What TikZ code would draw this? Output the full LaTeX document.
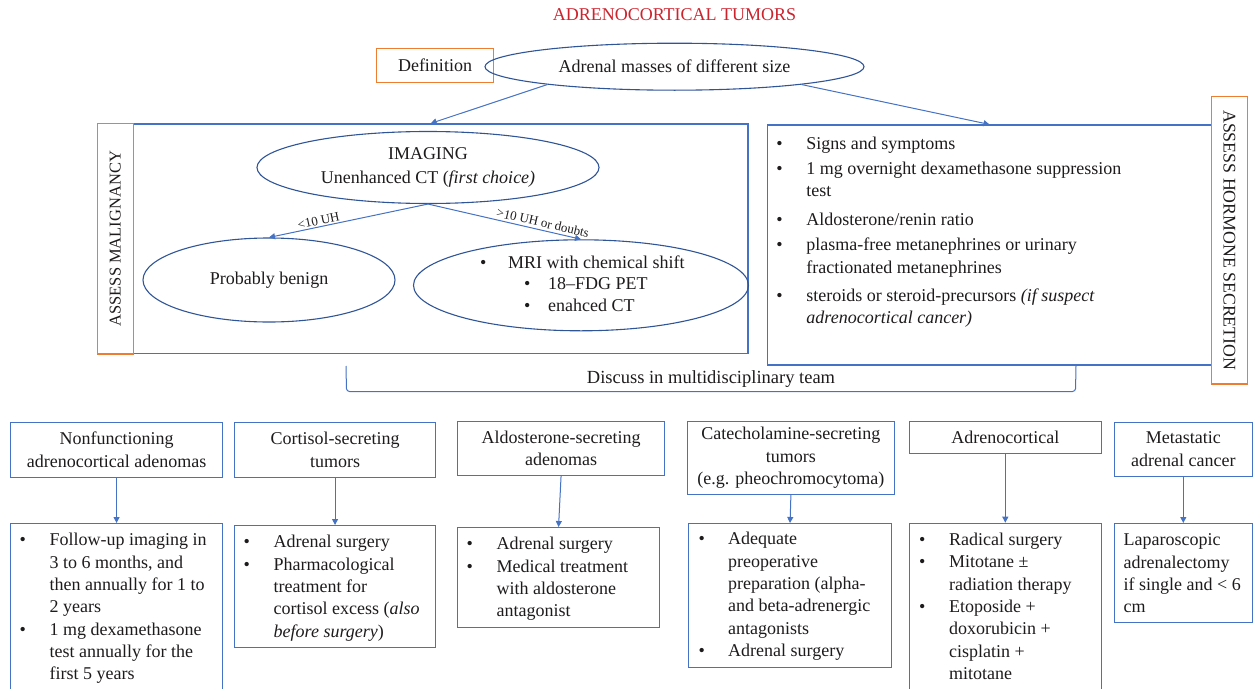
\documentclass[tikz,border=0pt]{standalone}
\usepackage{fontspec}
\setmainfont{Liberation Serif}
\usetikzlibrary{shapes.geometric,arrows.meta,calc}
\definecolor{boxblue}{RGB}{68,114,196}
\definecolor{elblue}{RGB}{47,85,151}
\definecolor{orng}{RGB}{237,125,49}
\definecolor{ttl}{RGB}{204,35,45}
\definecolor{ink}{RGB}{30,27,28}
\newcommand{\bodyfont}{\fontsize{18}{22.3}\selectfont}
\begin{document}
\begin{tikzpicture}[x=1pt,y=-1pt,
  every node/.style={text=ink},
  bx/.style={draw=boxblue, line width=1.1pt, rectangle, inner sep=0pt},
  obx/.style={draw=orng, line width=1.3pt, rectangle, inner sep=0pt},
  el/.style={draw=elblue, line width=1.1pt, ellipse, inner sep=0pt},
  txt/.style={inner sep=0pt, font=\bodyfont, align=left},
  hd/.style={bx, anchor=north west, font=\bodyfont, align=center},
  arr/.style={draw=boxblue, line width=1pt, -{Triangle[width=6pt,length=6pt]}},
  lbl/.style={font=\fontsize{13}{15}\selectfont, inner sep=1.5pt},
]
\useasboundingbox (0,0) rectangle (1258,688);

% title and definition
\node[font=\fontsize{18}{20}\selectfont, text=ttl, inner sep=0pt] (title) at (674.5,15) {ADRENOCORTICAL TUMORS};
\node[obx, minimum width=116.6, minimum height=34.4, font=\bodyfont] (def) at (435,65.5) {Definition};
\node[el, minimum width=379, minimum height=47, font=\bodyfont] (adm) at (674.5,66.7) {Adrenal masses of different size};

% assess malignancy
\node[bx, minimum width=614.7, minimum height=229.5] (mal) at (440.65,238.7) {};
\node[obx, rotate=90, minimum width=230.7, minimum height=36, font=\fontsize{16.5}{18}\selectfont] (malL) at (115.3,238.7) {ASSESS MALIGNANCY};
\node[el, minimum width=342, minimum height=72, font=\bodyfont, align=center] (img) at (428,167.5) {IMAGING\\[2pt]Unenhanced CT (\textit{first choice)}};
\node[el, minimum width=252, minimum height=84, font=\bodyfont] (ben) at (269,280) {Probably benign};
\node[el, minimum width=335, minimum height=91] (mri) at (581,285.3) {};
\node[txt, anchor=west] (mrit) at (480,285.5) {\fontsize{18}{21.5}\selectfont\begin{tabular}{@{}l@{}}
\makebox[28pt][l]{\textbullet}MRI with chemical shift\\
\hspace{44pt}\makebox[24pt][l]{\textbullet}18–FDG PET\\
\hspace{44pt}\makebox[24pt][l]{\textbullet}enahced CT
\end{tabular}};

% assess hormone secretion
\node[bx, minimum width=444.4, minimum height=240] (horm) at (989.5,245) {};
\node[obx, rotate=-90, minimum width=287.3, minimum height=35.6, font=\fontsize{17.8}{20}\selectfont] (hormL) at (1229.5,240.3) {ASSESS HORMONE SECRETION};
\node[txt, anchor=north west] (hormt) at ([xshift=9.5pt,yshift=-9.2pt]horm.north west) {\begin{tabular}{@{}p{30pt}@{}l@{}}
\textbullet & Signs and symptoms\\[2.7pt]
\textbullet & 1 mg overnight dexamethasone suppression\\
 & test\\[6pt]
\textbullet & Aldosterone/renin ratio\\[3.4pt]
\textbullet & plasma-free metanephrines or urinary\\
 & fractionated metanephrines\\[6pt]
\textbullet & steroids or steroid-precursors \textit{(if suspect}\\
 & \textit{adrenocortical cancer)}
\end{tabular}};

% connectors top
\draw[arr] (adm.188) -- ([xshift=-10pt]mal.north);
\draw[arr] (adm.352) -- (horm.north);
\draw[arr] (img.south) -- node[lbl, sloped, above, pos=0.68] (l1) {<10 UH} (ben.north);
\draw[arr] (img.south) -- node[lbl, sloped, above=1pt, pos=0.74] (l2) {>10 UH or doubts} (mri.north);

% discuss bracket
\node[font=\fontsize{18.5}{20}\selectfont, inner sep=0pt] (disc) at (711,379) {Discuss in multidisciplinary team};
\coordinate (bl) at (346,366);
\coordinate (br) at (horm.south -| 1076,0);
\draw[draw=boxblue, line width=1pt, rounded corners=3pt] (bl) -- (346.5,391.5) -- (1075.5,391.5) -- (br);

% bottom headers
\node[hd, minimum width=212, minimum height=55] (h1) at (10,421.7) {Nonfunctioning\\adrenocortical adenomas};
\node[hd, minimum width=201, minimum height=55] (h2) at (234,421.7) {Cortisol-secreting\\tumors};
\node[hd, minimum width=207, minimum height=54.3] (h3) at (457,420.7) {Aldosterone-secreting\\adenomas};
\node[hd, minimum width=207.3, minimum height=73.3] (h4) at (686.7,420.7) {Catecholamine-secreting\\tumors\\(e.g. pheochromocytoma)};
\node[hd, minimum width=191.5, minimum height=32.3] (h5) at (909,420.7) {Adrenocortical};
\node[hd, minimum width=138.5, minimum height=54] (h6) at (1113.5,421.7) {Metastatic\\adrenal cancer};

% bottom content boxes
\node[bx, anchor=north west, minimum width=212, minimum height=169] (c1) at (10,523) {};
\node[bx, anchor=north west, minimum width=201, minimum height=121.7] (c2) at (234,525) {};
\node[bx, anchor=north west, minimum width=202, minimum height=100] (c3) at (457,527) {};
\node[bx, anchor=north west, minimum width=203, minimum height=144] (c4) at (688,523) {};
\node[bx, anchor=north west, minimum width=191.5, minimum height=169.3] (c5) at (909,522.7) {};
\node[bx, anchor=north west, minimum width=138.5, minimum height=99] (c6) at (1113.5,523) {};

\node[txt, anchor=north west] (c1t) at ([xshift=9.5pt,yshift=-7pt]c1.north west) {\begin{tabular}{@{}p{30pt}@{}l@{}}
\textbullet & Follow-up imaging in\\
 & 3 to 6 months, and\\
 & then annually for 1 to\\
 & 2 years\\
\textbullet & 1 mg dexamethasone\\
 & test annually for the\\
 & first 5 years
\end{tabular}};
\node[txt, anchor=north west] (c2t) at ([xshift=9.5pt,yshift=-7pt]c2.north west) {\begin{tabular}{@{}p{30pt}@{}l@{}}
\textbullet & Adrenal surgery\\
\textbullet & Pharmacological\\
 & treatment for\\
 & cortisol excess (\textit{also}\\
 & \textit{before surgery})
\end{tabular}};
\node[txt, anchor=north west] (c3t) at ([xshift=9.5pt,yshift=-7pt]c3.north west) {\begin{tabular}{@{}p{30pt}@{}l@{}}
\textbullet & Adrenal surgery\\
\textbullet & Medical treatment\\
 & with aldosterone\\
 & antagonist
\end{tabular}};
\node[txt, anchor=north west] (c4t) at ([xshift=10.5pt,yshift=-6pt]c4.north west) {\begin{tabular}{@{}p{29.5pt}@{}l@{}}
\textbullet & Adequate\\
 & preoperative\\
 & preparation (alpha-\\
 & and beta-adrenergic\\
 & antagonists\\
\textbullet & Adrenal surgery
\end{tabular}};
\node[txt, anchor=north west] (c5t) at ([xshift=10pt,yshift=-7pt]c5.north west) {\begin{tabular}{@{}p{30pt}@{}l@{}}
\textbullet & Radical surgery\\
\textbullet & Mitotane ±\\
 & radiation therapy\\
\textbullet & Etoposide +\\
 & doxorubicin +\\
 & cisplatin +\\
 & mitotane
\end{tabular}};
\node[txt, anchor=north west] (c6t) at ([xshift=10pt,yshift=-7pt]c6.north west) {\begin{tabular}{@{}l@{}}
Laparoscopic\\
adrenalectomy\\
if single and < 6\\
cm
\end{tabular}};

% bottom arrows
\draw[arr] (h1.south) -- (c1.north);
\draw[arr] (h2.south) -- (c2.north);
\draw[arr] (h3.south) -- (c3.north);
\draw[arr] (h4.south) -- (c4.north);
\draw[arr] (h5.south) -- (c5.north);
\draw[arr] (h6.south) -- (c6.north);
\end{tikzpicture}
\end{document}
